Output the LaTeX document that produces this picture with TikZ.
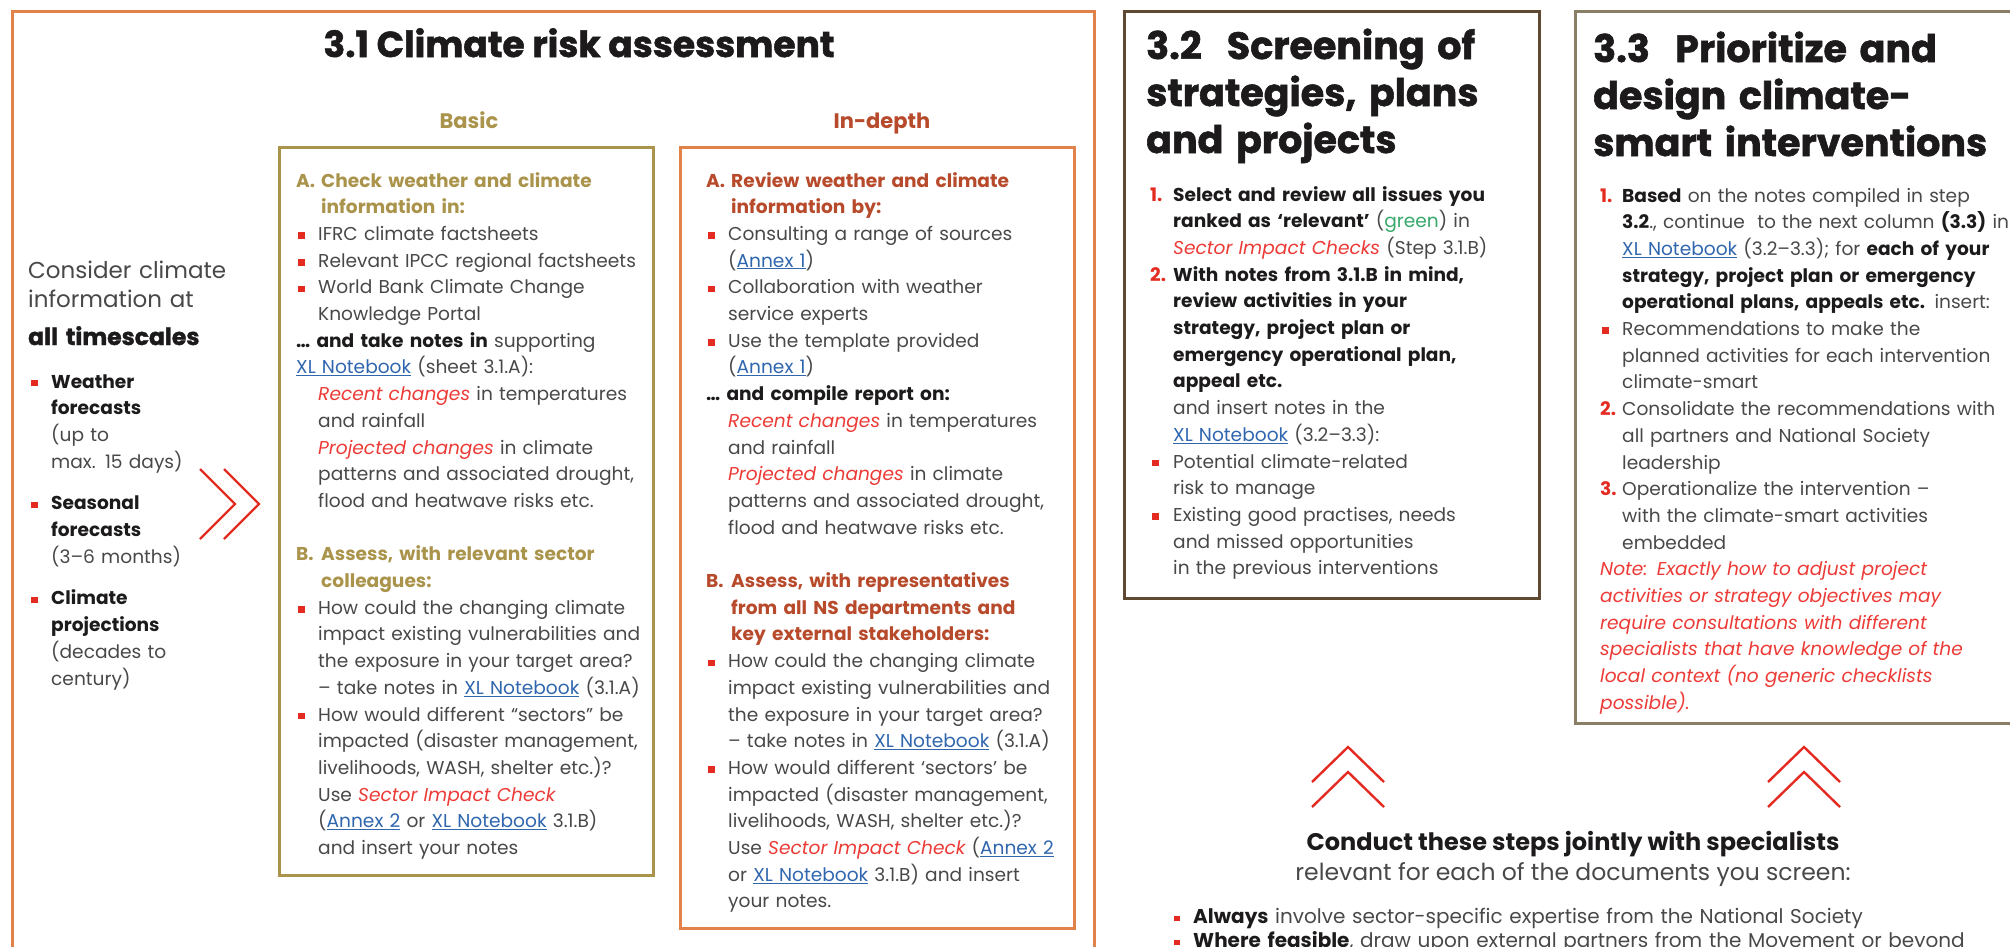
\documentclass[tikz,border=0pt]{standalone}
\usepackage{fontspec}
\setmainfont{Poppins}
\newfontfamily\heavyfont{Poppins}[BoldFeatures={FakeBold=1.5}]
\usepackage{tikz}

\definecolor{frameorange}{HTML}{E0824A}
\definecolor{basicgold}{HTML}{AA944C}
\definecolor{deeprust}{HTML}{B84A2C}
\definecolor{screenbrown}{HTML}{5E4A33}
\definecolor{designgray}{HTML}{8A7F66}
\definecolor{ifrcred}{HTML}{E32B22}
\definecolor{notered}{HTML}{EC3B36}
\definecolor{linkblue}{HTML}{2F66AE}
\definecolor{relgreen}{HTML}{38A86B}
\definecolor{bodygray}{HTML}{484848}
\definecolor{inkblack}{HTML}{1C1A1A}

\newlength\sqsize
\setlength\sqsize{6.5pt}
\newcommand{\sqmark}{\kern2pt\textcolor{ifrcred}{\rule[1.6pt]{\sqsize}{\sqsize}}}
\newcommand{\bitem}[2][22pt]{\hangindent=#1\hangafter=1\noindent\makebox[#1][l]{\sqmark}{\let\\\newline#2}\par}
\newcommand{\nitem}[3][23pt]{\hangindent=#1\hangafter=1\noindent\makebox[#1][l]{\textcolor{ifrcred}{\bfseries #2}}{\let\\\newline#3}\par}
\newcommand{\hitem}[4][25pt]{\hangindent=#1\hangafter=1\noindent\textcolor{#2}{\bfseries\makebox[#1][l]{#3}\let\\\newline#4}\par}
\newcommand{\iitem}[2][22pt]{\hangindent=#1\hangafter=0\noindent{\let\\\newline#2}\par}
\newcommand{\bolden}[1]{\textcolor{inkblack}{\bfseries #1}}
\newcommand{\lnk}[1]{\textcolor{linkblue}{\underline{#1}}}
\newcommand{\redit}[1]{\textcolor{notered}{\itshape #1}}

\tikzset{
  panel/.style={line width=3pt},
  chev/.style={draw=ifrcred, line width=2.4pt},
  body/.style={anchor=base west, inner sep=0pt, align=left, text=bodygray,
    font=\fontsize{18.6}{26.7}\selectfont},
  headline/.style={anchor=base west, inner sep=0pt, align=left, text=inkblack,
    font=\heavyfont\fontsize{38}{47}\selectfont\bfseries},
  colhead/.style={anchor=base, inner sep=0pt, font=\fontsize{21}{25}\selectfont\bfseries},
  hint/.style={anchor=base west, inner sep=0pt, align=left, text=bodygray, text width=250,
    font=\fontsize{23}{29}\selectfont}
}

\begin{document}
\begin{tikzpicture}[x=1pt,y=-1pt]
	\useasboundingbox (0,0) rectangle (2010,946);
	\draw[panel,draw=frameorange] (12,11) rectangle (1094,975);
	\draw[panel,draw=basicgold] (279,147) rectangle (653,875);
	\draw[panel,draw=frameorange] (680,147) rectangle (1074,928);
	\draw[panel,draw=screenbrown] (1124,11) rectangle (1539,598);
	\draw[panel,draw=designgray] (1575,11) rectangle (2030,723);
	\node[anchor=base, inner sep=0pt, text=inkblack, font=\heavyfont\fontsize{36}{40}\selectfont\bfseries] (title31) at (579,57) {3.1 Climate risk assessment};
	\node[colhead, text=basicgold] (basiclabel) at (469,128) {Basic};
	\node[colhead, text=deeprust] (deeplabel) at (882,128) {In-depth};
	\node[hint] (consider) at (28,278) {Consider climate\\information at};
	\node[hint, text=inkblack, font=\heavyfont\bfseries\fontsize{23.5}{29}\selectfont] (alltime) at (28,345) {all timescales};
	\node[body, text width=230] (timescales) at (29,388) {%
	\bitem{\bolden{Weather\\forecasts}\\(up to\\max. 15 days)}
	\vspace{15pt}
	\bitem{\bolden{Seasonal\\forecasts}\\(3–6 months)}
	\vspace{15pt}
	\bitem{\bolden{Climate\\projections}\\(decades to\\century)}};
	\foreach \dx in {0,24}
	\draw[chev] (200+\dx,469) -- (235+\dx,504) -- (200+\dx,539);
	\node[body, text width=380] (basicnotes) at (296,187) {%
	\hitem{basicgold}{A.}{Check weather and climate\\information in:}
	\bitem{IFRC climate factsheets}
	\bitem{Relevant IPCC regional factsheets}
	\bitem{World Bank Climate Change\\Knowledge Portal}
	\noindent\bolden{… and take notes in} supporting\\\lnk{XL Notebook} (sheet 3.1.A):\par
	\iitem{\redit{Recent changes} in temperatures\\and rainfall\\\redit{Projected changes} in climate\\patterns and associated drought,\\flood and heatwave risks etc.}
	\vspace{26.7pt}
	\hitem{basicgold}{B.}{Assess, with relevant sector\\colleagues:}
	\bitem{How could the changing climate\\impact existing vulnerabilities and\\the exposure in your target area?\\– take notes in \lnk{XL Notebook} (3.1.A)}
	\bitem{How would different “sectors” be\\impacted (disaster management,\\livelihoods, WASH, shelter etc.)?\\Use \redit{Sector Impact Check}\\(\lnk{Annex 2} or \lnk{XL Notebook} 3.1.B)\\and insert your notes}};
	\node[body, text width=390] (deepnotes) at (706,187) {%
	\hitem{deeprust}{A.}{Review weather and climate\\information by:}
	\bitem{Consulting a range of sources\\(\lnk{Annex 1})}
	\bitem{Collaboration with weather\\service experts}
	\bitem{Use the template provided\\(\lnk{Annex 1})}
	\noindent\bolden{… and compile report on:}\par
	\iitem{\redit{Recent changes} in temperatures\\and rainfall\\\redit{Projected changes} in climate\\patterns and associated drought,\\flood and heatwave risks etc.}
	\vspace{26.7pt}
	\hitem{deeprust}{B.}{Assess, with representatives\\from all NS departments and\\key external stakeholders:}
	\bitem{How could the changing climate\\impact existing vulnerabilities and\\the exposure in your target area?\\– take notes in \lnk{XL Notebook} (3.1.A)}
	\bitem{How would different ‘sectors’ be\\impacted (disaster management,\\livelihoods, WASH, shelter etc.)?\\Use \redit{Sector Impact Check} (\lnk{Annex 2}\\or \lnk{XL Notebook} 3.1.B) and insert\\your notes.}};
	\node[headline, text width=400] (screentitle) at (1146,59) {3.2\ \ Screening of\\strategies, plans\\and projects};
	\node[body, text width=390] (screennotes) at (1150,201) {%
	\nitem{1.}{\bolden{Select and review all issues you\\ranked as ‘relevant’} (\textcolor{relgreen}{green}) in\\\redit{Sector Impact Checks} (Step 3.1.B)}
	\nitem{2.}{\bolden{With notes from 3.1.B in mind,\\review activities in your\\strategy, project plan or\\emergency operational plan,\\appeal etc.}\\and insert notes in the\\\lnk{XL Notebook} (3.2–3.3):}
	\bitem[23pt]{Potential climate-related\\risk to manage}
	\bitem[23pt]{Existing good practises, needs\\and missed opportunities\\in the previous interventions}};
	\node[headline, text width=430] (designtitle) at (1593,62) {3.3\ \ Prioritize and\\design climate-\\smart interventions};
	\node[body, text width=430] (designnotes) at (1600,202) {%
	\nitem[22pt]{1.}{\bolden{Based} on the notes compiled in step\\\bolden{3.2}., continue\ \ to the next column \bolden{(3.3)} in\\\lnk{XL Notebook} (3.2–3.3); for \bolden{each of your\\strategy, project plan or emergency\\operational plans, appeals etc.} insert:}
	\bitem{Recommendations to make the\\planned activities for each intervention\\climate-smart}
	\nitem[22pt]{2.}{Consolidate the recommendations with\\all partners and National Society\\leadership}
	\nitem[22pt]{3.}{Operationalize the intervention –\\with the climate-smart activities\\embedded}
	\noindent\redit{Note: Exactly how to adjust project\\activities or strategy objectives may\\require consultations with different\\specialists that have knowledge of the\\local context (no generic checklists\\possible).}\par};
	\foreach \cx in {1348,1804}
	\foreach \dy in {0,25}
	\draw[chev] (\cx-36,782+\dy) -- (\cx,747+\dy) -- (\cx+36,782+\dy);
	\node[anchor=base, inner sep=0pt, text=inkblack, font=\fontsize{24}{28}\selectfont\bfseries] (conduct) at (1573,850) {Conduct these steps jointly with specialists};
	\node[anchor=base, inner sep=0pt, text=bodygray, font=\fontsize{23.5}{28}\selectfont] (screenhint) at (1573,880) {relevant for each of the documents you screen:};
	\setlength\sqsize{5.5pt}
	\node[body, text width=900, font=\fontsize{20}{24}\selectfont] (jointlist) at (1172,923) {%
	\bitem[21pt]{\bolden{Always} involve sector-specific expertise from the National Society}
	\bitem[21pt]{\bolden{Where feasible}, draw upon external partners from the Movement or beyond}};
\end{tikzpicture}
\end{document}
